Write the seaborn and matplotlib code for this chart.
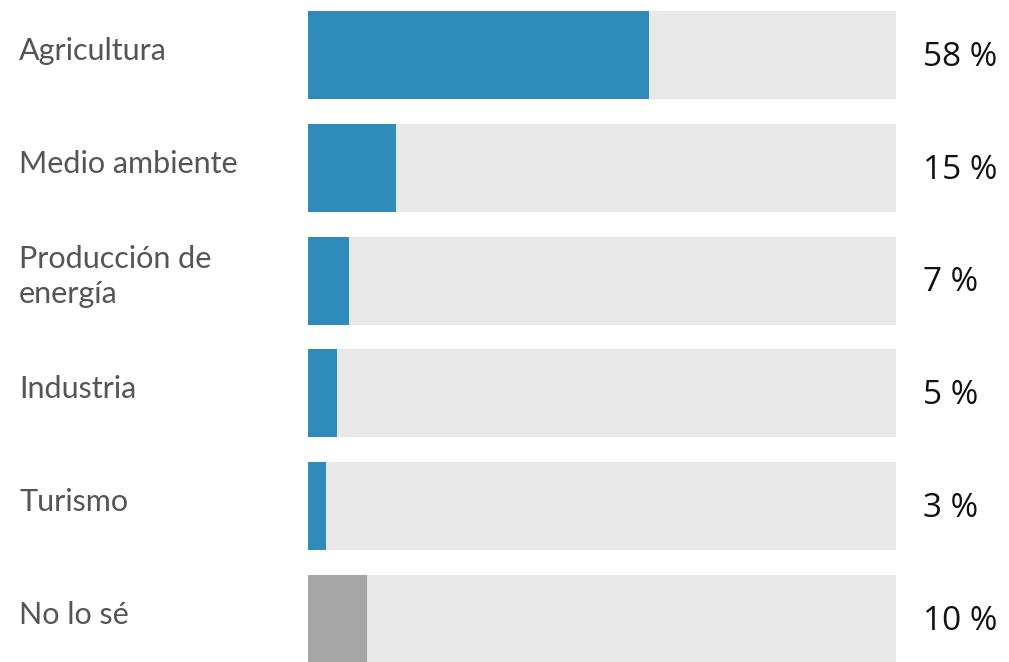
import matplotlib
matplotlib.use("Agg")
import matplotlib.pyplot as plt
import seaborn as sns
import pandas as pd

categories = ["Agricultura", "Medio ambiente", "Producción de\nenergía",
              "Industria", "Turismo", "No lo sé"]
values = [58, 15, 7, 5, 3, 10]
value_labels = ["58 %", "15 %", "7 %", "5 %", "3 %", "10 %"]
full_scale = [100] * len(categories)

BLUE = "#2e8bba"
GREY = "#a6a6a6"
TRACK = "#e8e8e8"
bar_colors = [BLUE, BLUE, BLUE, BLUE, BLUE, GREY]

sns.set_theme(style="white")
plt.rcParams["font.family"] = ["Lato", "DejaVu Sans"]

df = pd.DataFrame({"category": categories, "value": values, "track": full_scale})

W, H = 1009, 662
fig = plt.figure(figsize=(W / 100, H / 100), dpi=100)
fig.patch.set_facecolor("white")

# axes: x from 308 px to 896 px, rows spaced ~113 px with first row centred at 55 px
row_px = 112.8
left, right = 308, 896
top_px = 55 - row_px / 2
height_px = row_px * len(categories)
ax = fig.add_axes([left / W, 1 - (top_px + height_px) / H,
                   (right - left) / W, height_px / H])

sns.barplot(data=df, y="category", x="track", color=TRACK, width=0.78,
            ax=ax, orient="h", saturation=1, linewidth=0, edgecolor="none")
sns.barplot(data=df, y="category", x="value", hue="category",
            palette=bar_colors, legend=False, width=0.78,
            ax=ax, orient="h", saturation=1, linewidth=0, edgecolor="none")

ax.set_xlim(0, 100)
ax.set_ylim(len(categories) - 0.5, -0.5)
ax.set_xlabel("")
ax.set_ylabel("")
ax.set_xticks([])
ax.set_yticks([])
sns.despine(ax=ax, left=True, bottom=True)

# category labels at the left edge of the figure
for i, cat in enumerate(categories):
    y_fig_px = 51 + i * row_px
    ax.text(19 / W, 1 - y_fig_px / H, cat, transform=fig.transFigure,
            ha="left", va="center", fontsize=22, color="#555555",
            linespacing=1.3)

# value labels to the right of the tracks
for i, lab in enumerate(value_labels):
    ax.text(104.6, i + 0.02, lab, ha="left", va="center", fontsize=24,
            color="#111111", family=["Open Sans", "DejaVu Sans"],
            fontweight="medium", clip_on=False)

fig.savefig("out.png", dpi=100, facecolor="white")
